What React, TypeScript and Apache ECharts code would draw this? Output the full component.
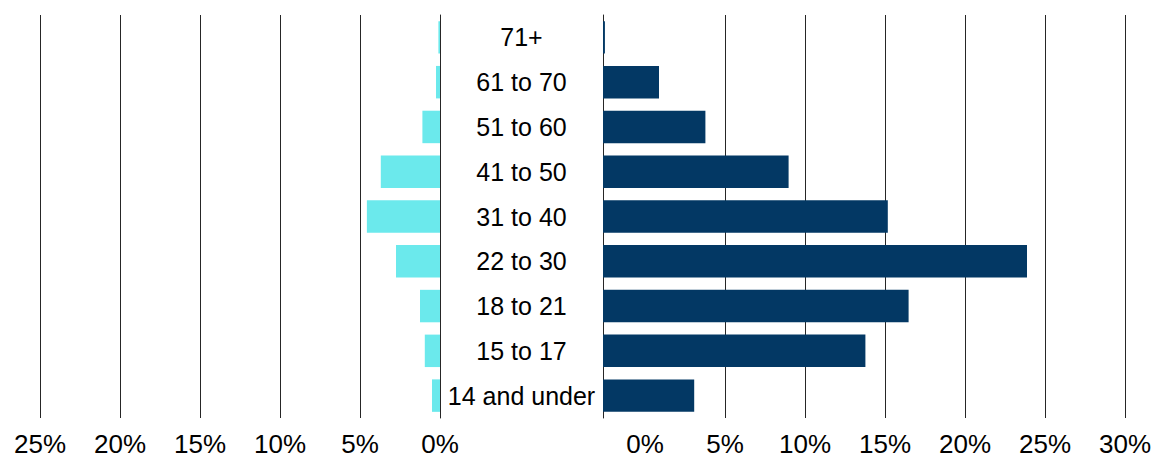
import React, { useEffect, useRef } from "react";
import * as echarts from "echarts";

// Age groups, bottom to top
const categories = [
  "14 and under",
  "15 to 17",
  "18 to 21",
  "22 to 30",
  "31 to 40",
  "41 to 50",
  "51 to 60",
  "61 to 70",
  "71+",
];

// Left panel values (%), drawn leftwards from 0%
const leftValues = [0.5, 0.95, 1.25, 2.75, 4.57, 3.7, 1.1, 0.25, 0.1];

// Right panel values (%), measured from the right panel's axis line
const rightValues = [5.7, 16.4, 19.1, 26.5, 17.8, 11.6, 6.4, 3.5, 0.12];

// Tick labels
const leftTicks = [0, 5, 10, 15, 20, 25];
const rightTickMax = 30;
const rightAxisOffset = 2.625; // right panel's labelled 0% sits this far right of its axis line

const FONT = "'Liberation Sans', Arial, sans-serif";
const LINE = "#262626";

export default function App() {
  const ref = useRef<HTMLDivElement>(null);

  useEffect(() => {
    if (!ref.current) return;
    const chart = echarts.init(ref.current, null, { renderer: "svg" });
    const rightLineColors = ["#262626", "rgba(0,0,0,0)"];
    for (let i = 0; i < 6; i++) rightLineColors.push(LINE);

    chart.setOption({
      animation: false,
      grid: [
        { left: 40, top: 15, width: 400, height: 403, containLabel: false },
        { left: 603, top: 15, width: 522, height: 403, containLabel: false },
      ],
      xAxis: [
        {
          type: "value",
          gridIndex: 0,
          inverse: true,
          min: leftTicks[0],
          max: leftTicks[leftTicks.length - 1],
          interval: 5,
          axisLine: { show: false },
          axisTick: { show: false },
          axisLabel: {
            formatter: "{value}%",
            fontFamily: FONT,
            fontSize: 26,
            color: "#000",
            margin: 13,
          },
          splitLine: { show: true, lineStyle: { color: LINE, width: 1 } },
        },
        {
          type: "value",
          gridIndex: 1,
          min: 0,
          max: rightTickMax + rightAxisOffset,
          show: false,
          splitLine: { show: false },
        },
        {
          type: "value",
          gridIndex: 1,
          position: "bottom",
          min: -rightAxisOffset,
          max: rightTickMax,
          minInterval: 5,
          maxInterval: 5,
          axisLine: { show: false },
          axisTick: { show: false },
          axisLabel: {
            formatter: "{value}%",
            showMinLabel: false,
            fontFamily: FONT,
            fontSize: 26,
            color: "#000",
            margin: 13,
          },
          splitLine: { show: true, lineStyle: { color: rightLineColors, width: 1 } },
        },
      ],
      yAxis: [
        {
          type: "category",
          gridIndex: 0,
          position: "right",
          data: categories,
          axisLine: { show: true, lineStyle: { color: LINE, width: 1 } },
          axisTick: { show: false },
          axisLabel: { show: false },
          splitLine: { show: false },
        },
        {
          type: "category",
          gridIndex: 1,
          position: "left",
          data: categories,
          axisLine: { show: true, lineStyle: { color: LINE, width: 1 } },
          axisTick: { show: false },
          axisLabel: {
            show: true,
            interval: 0,
            align: "center",
            margin: 81.5,
            fontFamily: FONT,
            fontSize: 25,
            color: "#000",
          },
          splitLine: { show: false },
        },
      ],
      series: [
        {
          type: "bar",
          xAxisIndex: 0,
          yAxisIndex: 0,
          data: leftValues,
          barCategoryGap: "27.5%",
          itemStyle: { color: "#6BE9EC" },
        },
        {
          type: "bar",
          xAxisIndex: 1,
          yAxisIndex: 1,
          data: rightValues,
          barCategoryGap: "27.5%",
          itemStyle: { color: "#033864" },
        },
      ],
    });
    return () => chart.dispose();
  }, []);

  return (
    <div
      ref={ref}
      style={{ position: "fixed", left: 0, top: 0, width: 1158, height: 462, background: "#fff" }}
    />
  );
}
